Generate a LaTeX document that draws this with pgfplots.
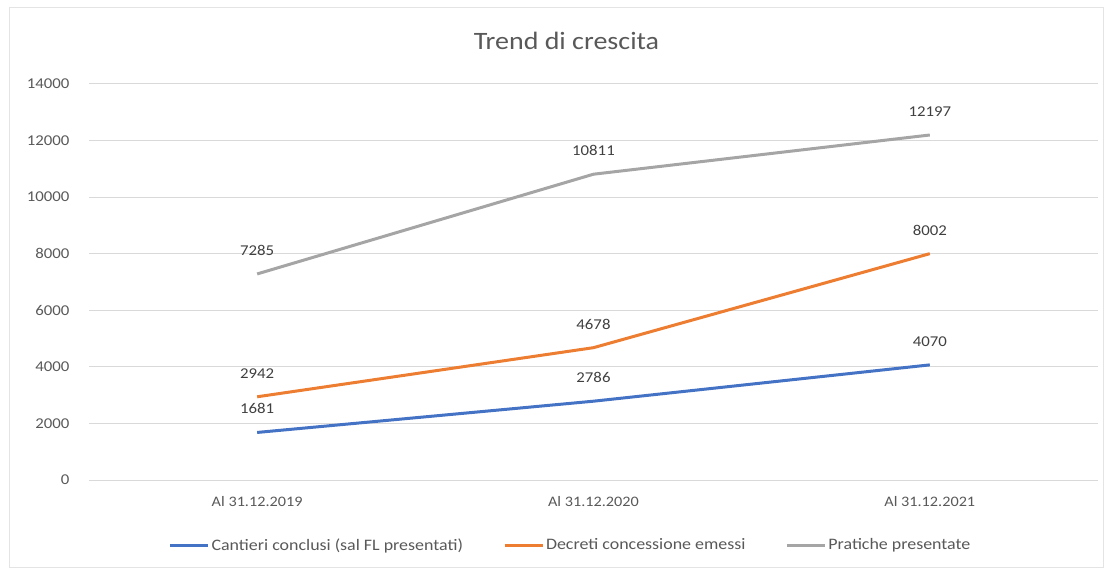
\documentclass[border=0pt]{standalone}
\usepackage{pgfplots}
\pgfplotsset{compat=1.18}
\usepackage{fontspec}
\setmainfont[FakeStretch=1.12]{Carlito}
\definecolor{xblue}{HTML}{4472C4}
\definecolor{xorange}{HTML}{ED7D31}
\definecolor{xgray}{HTML}{A5A5A5}
\definecolor{txt}{HTML}{595959}
\definecolor{dtxt}{HTML}{404040}
\definecolor{gridc}{HTML}{D9D9D9}
\begin{document}
\begin{tikzpicture}
\path (-89pt,-90pt) rectangle (1024pt,480pt);
\draw[gridc!70, line width=1pt] (-79pt,-87pt) rectangle (1014pt,472pt);
\begin{axis}[
  at={(0pt,0pt)}, anchor=south west,
  scale only axis, width=1009pt, height=396pt,
  xmin=-0.5, xmax=2.5, ymin=0, ymax=14000,
  xtick={0,1,2},
  xticklabels={Al 31.12.2019, Al 31.12.2020, Al 31.12.2021},
  ytick={0,2000,4000,6000,8000,10000,12000,14000},
  scaled y ticks=false,
  ymajorgrids, grid style={gridc, line width=1pt},
  axis line style={draw=none}, tick style={draw=none},
  /pgf/number format/assume math mode=true,
  /pgf/number format/1000 sep={},
  yticklabel style={font=\fontsize{15}{15}\selectfont, text=txt, xshift=-16pt},
  xticklabel style={font=\fontsize{14.5}{15}\selectfont, text=txt, yshift=-13pt},
  title={Trend di crescita},
  title style={font=\fontsize{25}{25}\selectfont, text=txt, at={(axis description cs:0.5,1)}, anchor=center, yshift=37pt, xshift=-27pt},
  legend style={draw=none, legend columns=3, at={(axis description cs:0.5,0)}, anchor=center, yshift=-65pt, xshift=-23pt, font=\fontsize{16}{16}\selectfont, text=txt, /tikz/every even column/.append style={column sep=38pt}},
  legend image code/.code={\draw[#1, line width=3pt] (0pt,0pt) -- (38pt,0pt);},
  nodes near coords,
  every node near coord/.append style={font=\fontsize{15}{15}\selectfont, text=dtxt, anchor=south, inner sep=0pt, yshift=17pt},
  every axis plot/.append style={line width=3pt, line join=round, no markers},
]
\addplot[xblue] coordinates {(0,1681) (1,2786) (2,4070)};
\addlegendentry{Cantieri conclusi (sal FL presentati)}
\addplot[xorange] coordinates {(0,2942) (1,4678) (2,8002)};
\addlegendentry{Decreti concessione emessi}
\addplot[xgray] coordinates {(0,7285) (1,10811) (2,12197)};
\addlegendentry{Pratiche presentate}
\end{axis}
\end{tikzpicture}
\end{document}
